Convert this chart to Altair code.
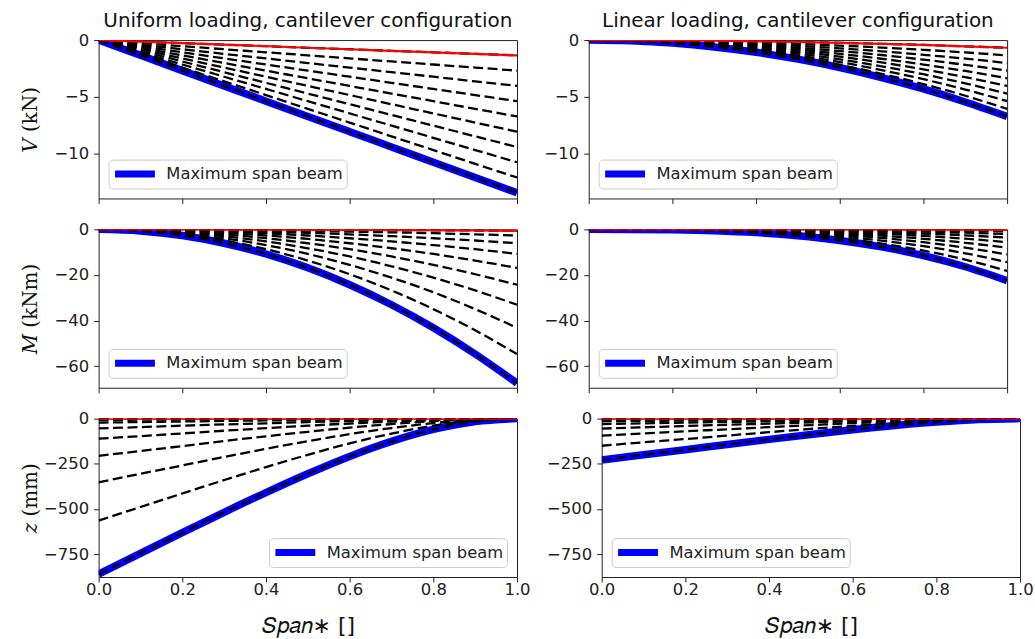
import altair as alt
import pandas as pd

# Normalised position along the span (x axis)
SPAN = [0.0, 0.1, 0.2, 0.3, 0.4, 0.5, 0.6, 0.7, 0.8, 0.9, 1.0]
X_TICKS = [0.0, 0.2, 0.4, 0.6, 0.8, 1.0]
LEGEND_LABEL = "Maximum span beam"

# Shear force V (kN), uniform loading: one list per beam, shortest span first
V_UNIFORM = [
    [0, -0.14, -0.27, -0.41, -0.54, -0.68, -0.81, -0.95, -1.08, -1.22, -1.35],
    [0, -0.27, -0.54, -0.81, -1.08, -1.35, -1.62, -1.89, -2.16, -2.43, -2.70],
    [0, -0.41, -0.81, -1.22, -1.62, -2.03, -2.43, -2.84, -3.24, -3.65, -4.05],
    [0, -0.54, -1.08, -1.62, -2.16, -2.70, -3.24, -3.78, -4.32, -4.86, -5.40],
    [0, -0.68, -1.35, -2.03, -2.70, -3.38, -4.05, -4.73, -5.40, -6.08, -6.75],
    [0, -0.81, -1.62, -2.43, -3.24, -4.05, -4.86, -5.67, -6.48, -7.29, -8.10],
    [0, -0.95, -1.89, -2.84, -3.78, -4.73, -5.67, -6.62, -7.56, -8.51, -9.45],
    [0, -1.08, -2.16, -3.24, -4.32, -5.40, -6.48, -7.56, -8.64, -9.72, -10.80],
    [0, -1.22, -2.43, -3.65, -4.86, -6.08, -7.29, -8.51, -9.72, -10.94, -12.15],
    [0, -1.35, -2.70, -4.05, -5.40, -6.75, -8.10, -9.45, -10.80, -12.15, -13.50],
]

# Shear force V (kN), linear loading
V_LINEAR = [
    [0, -0.01, -0.03, -0.06, -0.11, -0.17, -0.24, -0.33, -0.43, -0.55, -0.68],
    [0, -0.01, -0.05, -0.12, -0.22, -0.34, -0.49, -0.66, -0.86, -1.09, -1.35],
    [0, -0.02, -0.08, -0.18, -0.32, -0.51, -0.73, -0.99, -1.30, -1.64, -2.03],
    [0, -0.03, -0.11, -0.24, -0.43, -0.68, -0.97, -1.32, -1.73, -2.19, -2.70],
    [0, -0.03, -0.14, -0.30, -0.54, -0.84, -1.22, -1.65, -2.16, -2.73, -3.38],
    [0, -0.04, -0.16, -0.36, -0.65, -1.01, -1.46, -1.98, -2.59, -3.28, -4.05],
    [0, -0.05, -0.19, -0.43, -0.76, -1.18, -1.70, -2.32, -3.02, -3.83, -4.73],
    [0, -0.05, -0.22, -0.49, -0.86, -1.35, -1.94, -2.65, -3.46, -4.37, -5.40],
    [0, -0.06, -0.24, -0.55, -0.97, -1.52, -2.19, -2.98, -3.89, -4.92, -6.08],
    [0, -0.07, -0.27, -0.61, -1.08, -1.69, -2.43, -3.31, -4.32, -5.47, -6.75],
]

# Bending moment M (kNm), uniform loading
M_UNIFORM = [
    [0, 0.0, 0.0, -0.1, -0.1, -0.2, -0.2, -0.3, -0.4, -0.5, -0.7],
    [0, 0.0, -0.1, -0.2, -0.4, -0.7, -1.0, -1.3, -1.7, -2.2, -2.7],
    [0, -0.1, -0.2, -0.5, -1.0, -1.5, -2.2, -3.0, -3.9, -4.9, -6.1],
    [0, -0.1, -0.4, -1.0, -1.7, -2.7, -3.9, -5.3, -6.9, -8.7, -10.8],
    [0, -0.2, -0.7, -1.5, -2.7, -4.2, -6.1, -8.3, -10.8, -13.7, -16.9],
    [0, -0.2, -1.0, -2.2, -3.9, -6.1, -8.7, -11.9, -15.6, -19.7, -24.3],
    [0, -0.3, -1.3, -3.0, -5.3, -8.3, -11.9, -16.2, -21.2, -26.8, -33.1],
    [0, -0.4, -1.7, -3.9, -6.9, -10.8, -15.6, -21.2, -27.6, -35.0, -43.2],
    [0, -0.5, -2.2, -4.9, -8.7, -13.7, -19.7, -26.8, -35.0, -44.3, -54.7],
    [0, -0.7, -2.7, -6.1, -10.8, -16.9, -24.3, -33.1, -43.2, -54.7, -67.5],
]

# Bending moment M (kNm), linear loading
M_LINEAR = [
    [0, 0.0, 0.0, -0.01, -0.01, -0.03, -0.05, -0.08, -0.12, -0.16, -0.23],
    [0, 0.0, -0.01, -0.02, -0.06, -0.11, -0.19, -0.31, -0.46, -0.66, -0.90],
    [0, 0.0, -0.02, -0.05, -0.13, -0.25, -0.44, -0.69, -1.04, -1.48, -2.03],
    [0, 0.0, -0.03, -0.10, -0.23, -0.45, -0.78, -1.23, -1.84, -2.62, -3.60],
    [0, -0.01, -0.05, -0.15, -0.36, -0.70, -1.22, -1.93, -2.88, -4.10, -5.63],
    [0, -0.01, -0.06, -0.22, -0.52, -1.01, -1.75, -2.78, -4.15, -5.90, -8.10],
    [0, -0.01, -0.09, -0.30, -0.71, -1.38, -2.38, -3.78, -5.64, -8.04, -11.03],
    [0, -0.01, -0.12, -0.39, -0.92, -1.80, -3.11, -4.94, -7.37, -10.50, -14.40],
    [0, -0.02, -0.15, -0.49, -1.17, -2.28, -3.94, -6.25, -9.33, -13.29, -18.23],
    [0, -0.02, -0.18, -0.61, -1.44, -2.81, -4.86, -7.72, -11.52, -16.40, -22.50],
]

# Deflection z (mm), uniform loading
Z_UNIFORM = [
    [-0.1, -0.1, -0.1, -0.1, 0.0, 0.0, 0.0, 0.0, 0.0, 0.0, 0.0],
    [-1.4, -1.2, -1.0, -0.8, -0.7, -0.5, -0.3, -0.2, -0.1, 0.0, 0.0],
    [-7, -6, -5, -4, -3, -2, -2, -1, 0, 0, 0],
    [-22, -19, -16, -13, -10, -8, -5, -3, -2, 0, 0],
    [-54, -47, -39, -32, -26, -19, -13, -8, -4, -1, 0],
    [-111, -97, -82, -67, -53, -39, -27, -16, -8, -2, 0],
    [-206, -179, -152, -124, -98, -73, -50, -30, -14, -4, 0],
    [-352, -305, -259, -212, -167, -125, -86, -52, -25, -7, 0],
    [-564, -489, -414, -340, -268, -200, -137, -83, -39, -11, 0],
    [-860, -745, -631, -518, -409, -305, -209, -126, -60, -16, 0],
]

# Deflection z (mm), linear loading
Z_LINEAR = [
    [0.0, 0.0, 0.0, 0.0, 0.0, 0.0, 0.0, 0.0, 0.0, 0.0, 0.0],
    [-0.4, -0.3, -0.3, -0.2, -0.2, -0.1, -0.1, -0.1, 0.0, 0.0, 0.0],
    [-1.9, -1.6, -1.4, -1.2, -0.9, -0.7, -0.5, -0.3, -0.2, 0.0, 0.0],
    [-5.9, -5.1, -4.4, -3.7, -2.9, -2.2, -1.6, -1.0, -0.5, -0.1, 0.0],
    [-14.3, -12.5, -10.7, -8.9, -7.2, -5.5, -3.9, -2.4, -1.2, -0.3, 0.0],
    [-29.7, -26.0, -22.3, -18.6, -14.9, -11.4, -8.0, -5.0, -2.4, -0.7, 0.0],
    [-55, -48, -41, -34, -28, -21, -15, -9, -5, -1, 0],
    [-94, -82, -70, -59, -47, -36, -25, -16, -8, -2, 0],
    [-150, -131, -113, -94, -75, -57, -40, -25, -12, -3, 0],
    [-229, -200, -172, -143, -115, -88, -62, -38, -19, -5, 0],
]

ROW_DOMAINS = {"V": [-14.0, 0.0], "M": [-69.5, 0.0], "z": [-876.0, 0.0]}
ROW_TICKS = {"V": [-10, -5, 0], "M": [-60, -40, -20, 0], "z": [-750, -500, -250, 0]}
ROW_TITLES = {"V": "\U0001D449 (kN)", "M": "\U0001D440 (kNm)", "z": "\U0001D467 (mm)"}
COL_TITLES = ["Uniform loading, cantilever configuration",
              "Linear loading, cantilever configuration"]
X_TITLE = "\U0001D446\U0001D45D\U0001D44E\U0001D45B\u2217 []"

FONT = "DejaVu Sans"
W, H = 420, 159
N_BEAMS = len(V_UNIFORM)


def frame(curves):
    rows = []
    for k, ys in enumerate(curves, start=1):
        for x, y in zip(SPAN, ys):
            rows.append({"beam": k, "span": x, "value": y,
                         "label": LEGEND_LABEL if k == N_BEAMS else "other"})
    return pd.DataFrame(rows)


def panel(curves, row, col, legend_orient):
    df = frame(curves)
    bottom = row == "z"
    x_axis = alt.Axis(values=X_TICKS, labels=bottom, format=".1f", labelFlush=False,
                      title=X_TITLE if bottom else None)
    y_axis = alt.Axis(values=ROW_TICKS[row], format="d", labelFlush=False,
                      title=ROW_TITLES[row] if col == 0 else None)
    x = alt.X("span:Q", scale=alt.Scale(domain=[0, 1], nice=False, zero=False), axis=x_axis)
    y = alt.Y("value:Q", scale=alt.Scale(domain=ROW_DOMAINS[row], nice=False), axis=y_axis)
    base = alt.Chart(df)

    blue = base.transform_filter(alt.datum.beam == N_BEAMS).mark_line(
        strokeWidth=7.5, clip=True, interpolate="monotone"
    ).encode(
        x=x, y=y,
        color=alt.Color(
            "label:N",
            scale=alt.Scale(domain=[LEGEND_LABEL], range=["#0000ff"]),
            legend=alt.Legend(
                orient=legend_orient, title=None, symbolType="stroke",
                symbolSize=1600, symbolStrokeWidth=7, labelFontSize=16.4,
                labelFont=FONT, labelColor="#222222", labelLimit=400,
                fillColor="white", strokeColor="#cccccc", cornerRadius=4,
                padding=3, offset=10, labelOffset=8, clipHeight=23,
            ),
        ),
    )
    dashed = base.mark_line(
        color="black", strokeWidth=2.3, strokeDash=[10, 4.5], clip=True, interpolate="monotone"
    ).encode(x=x, y=y, detail="beam:N")
    red = base.transform_filter(alt.datum.beam == 1).mark_line(
        color="#ff0000", strokeWidth=2.2, clip=True, interpolate="monotone"
    ).encode(x=x, y=y)

    layer = alt.layer(blue, dashed, red).properties(width=W, height=H)
    if row == "V":
        layer = layer.properties(title=alt.TitleParams(
            COL_TITLES[col], fontSize=20, font=FONT, fontWeight="normal",
            anchor="middle", offset=1, color="#111111"))
    return layer


rows = []
for row, left, right, orients in [
    ("V", V_UNIFORM, V_LINEAR, ("bottom-left", "bottom-left")),
    ("M", M_UNIFORM, M_LINEAR, ("bottom-left", "bottom-left")),
    ("z", Z_UNIFORM, Z_LINEAR, ("bottom-right", "bottom-left")),
]:
    rows.append(
        alt.hconcat(panel(left, row, 0, orients[0]), panel(right, row, 1, orients[1]), spacing=14)
        .resolve_scale(color="independent")
        .resolve_legend(color="independent")
    )

chart = (
    alt.vconcat(*rows, spacing=16)
    .resolve_scale(color="independent")
    .resolve_legend(color="independent")
    .properties(padding={"left": 20, "top": 9, "right": 1, "bottom": 0})
    .configure_view(stroke="#222222", strokeWidth=1)
    .configure_axis(
        domain=False, grid=False, tickColor="#222222", tickSize=5, tickWidth=1,
        labelFont=FONT, labelFontSize=16.5, labelColor="#222222", labelPadding=5,
        titleFontWeight="normal", titleColor="#111111",
    )
    .configure_axisY(minExtent=56, maxExtent=56, titleFont="DejaVu Serif",
                     titleFontSize=20, titlePadding=2)
    .configure_axisX(titleFont=FONT, titleFontSize=22, titlePadding=17, labelPadding=0)
)

chart.save("out.html", embed_options={"renderer": "svg", "actions": False})
